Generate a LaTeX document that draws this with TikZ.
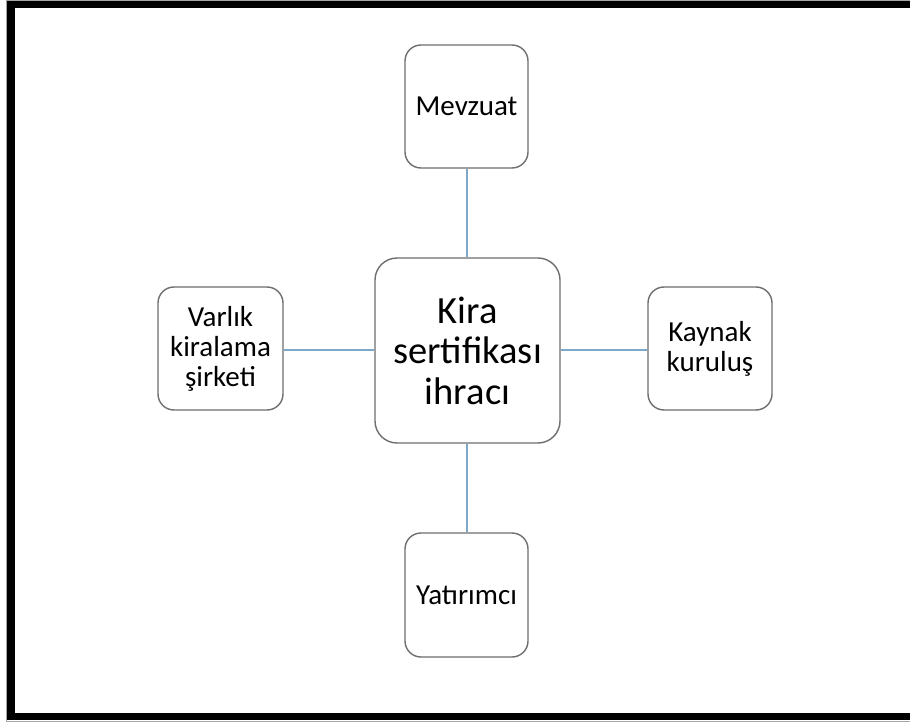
\documentclass[tikz,border=0pt]{standalone}
\usepackage{fontspec}
\setmainfont{Carlito}
\definecolor{linkblue}{RGB}{125,168,202}
\definecolor{boxgray}{RGB}{110,110,110}
\tikzset{
  topicbox/.style={draw=boxgray, line width=1.4pt, fill=white, rounded corners=16pt,
    minimum width=123pt, minimum height=123pt, inner sep=0pt, align=center,
    font=\fontsize{29}{30}\selectfont},
  hubbox/.style={topicbox, rounded corners=22pt, minimum width=185pt, minimum height=185pt,
    font=\fontsize{38.5}{40.5}\selectfont},
  link/.style={draw=linkblue, line width=2.4pt},
  frameline/.style={line width=7.6pt, line join=miter}
}
\begin{document}
\begin{tikzpicture}[x=1pt, y=-1pt]
  \useasboundingbox (0,0) rectangle (910,722);
  \fill[white] (0,0) rectangle (910,722);

  % outer frame (open to the right)
  \draw[gray!70, line width=1pt] (910,0.5) -- (6.5,0.5) -- (6.5,721.5) -- (910,721.5);
  \draw[frameline] (910,4.5) -- (11,4.5) -- (11,716.5) -- (910,716.5);

  % hub and topics
  \node[hubbox] (hub) at (467.5,350.5) {Kira\\sertifikası\\ihracı};
  \node[topicbox] (mevzuat) at (466.5,106.5) {Mevzuat};
  \node[topicbox, minimum height=124pt] (yatirimci) at (466.5,595) {Yatırımcı};
  \node[topicbox, minimum width=125pt] (varlik) at (220.5,348.5) {Varlık\\kiralama\\şirketi};
  \node[topicbox, minimum width=124pt] (kaynak) at (710,348.5) {Kaynak\\kuruluş};

  % connectors
  \draw[link] (mevzuat.south -| 467,0) -- (hub.north -| 467,0);
  \draw[link] (hub.south -| 467,0) -- (yatirimci.north -| 467,0);
  \draw[link] (varlik.east |- 0,350) -- (hub.west |- 0,350);
  \draw[link] (hub.east |- 0,350) -- (kaynak.west |- 0,350);
\end{tikzpicture}
\end{document}
